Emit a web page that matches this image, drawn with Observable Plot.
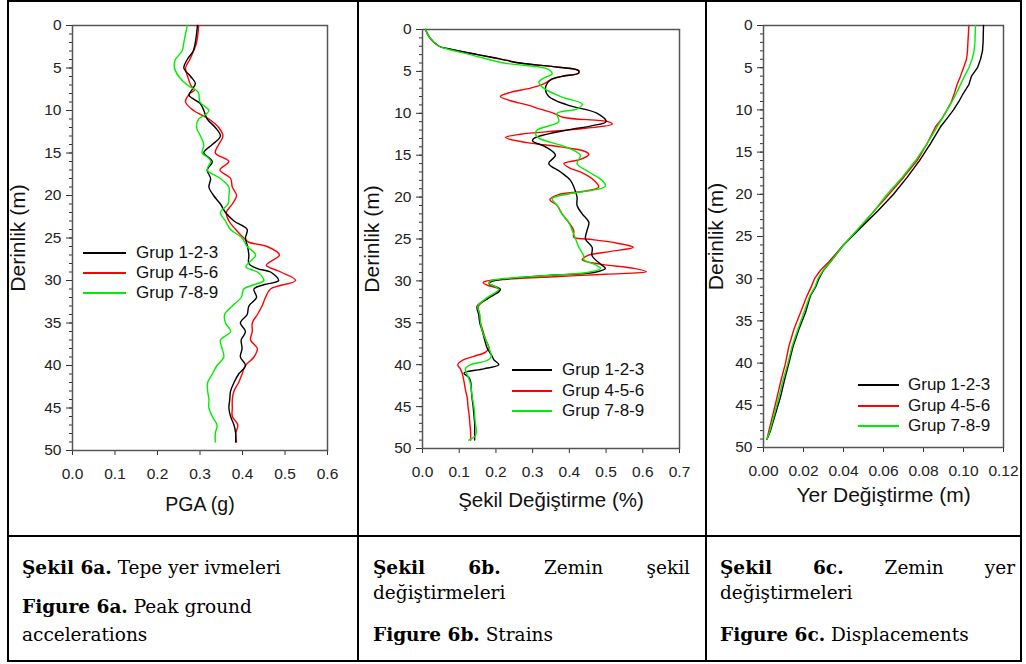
<!DOCTYPE html>
<html><head><meta charset="utf-8">
<script src="https://cdn.jsdelivr.net/npm/d3@7"></script>
<script src="https://cdn.jsdelivr.net/npm/@observablehq/plot@0.6"></script>
<style>
body{margin:0;background:#fff;width:1026px;height:664px;position:relative;overflow:hidden;font-family:"Liberation Sans",Arial,sans-serif;}
.rule{position:absolute;background:#000}
.chart{position:absolute}
.cap{position:absolute;font-family:"DejaVu Serif",serif;font-size:18.5px;line-height:26px;height:26px;white-space:nowrap;color:#000}
.cap.just{display:flex;justify-content:space-between}
.leg{position:absolute;font-size:17px;line-height:20px;height:20px;white-space:nowrap;color:#111}
.ln{position:absolute;height:2px}
</style></head><body>
<script>
// ---------- data ----------
const groupNames = ["Grup 1-2-3", "Grup 4-5-6", "Grup 7-8-9"];
const groupColors = ["#000000", "#ff0000", "#00ee00"];
const drawOrder = [1, 0, 2]; // red below black, green on top
const depthTicks = [0, 5, 10, 15, 20, 25, 30, 35, 40, 45, 50];
const depthMinorTicks = d3.range(0, 51, 1);

const pgaTicks = [0, 0.1, 0.2, 0.3, 0.4, 0.5, 0.6];
const strainTicks = [0, 0.1, 0.2, 0.3, 0.4, 0.5, 0.6, 0.7];
const dispTicks = [0, 0.02, 0.04, 0.06, 0.08, 0.10, 0.12];

// PGA (g) vs depth (m): [depth, value]
const pga123 = [[0,0.294],[2,0.289],[3,0.284],[4,0.27],[5,0.262],[6,0.278],[6.8,0.289],[7.5,0.282],[8.2,0.274],[9.2,0.301],[10,0.309],[11,0.317],[12,0.336],[13,0.348],[14,0.329],[14.7,0.312],[15,0.309],[16,0.329],[17,0.317],[18,0.325],[19,0.321],[20,0.332],[21,0.348],[22,0.36],[23,0.38],[24,0.411],[25,0.407],[26,0.412],[27,0.415],[28,0.415],[28.6,0.435],[29,0.466],[30,0.485],[30.5,0.45],[31,0.427],[32,0.433],[33,0.415],[34,0.411],[35,0.395],[36,0.407],[37,0.397],[38,0.399],[39,0.395],[40,0.407],[41,0.391],[42,0.38],[43,0.372],[44,0.37],[45,0.368],[46,0.372],[47,0.38],[48,0.384],[49,0.384]];
const pga456 = [[0,0.297],[2,0.292],[3,0.285],[4,0.276],[5,0.266],[6,0.271],[7,0.278],[7.6,0.287],[8,0.276],[9,0.266],[10,0.285],[11,0.321],[12,0.344],[13,0.354],[14,0.344],[15,0.336],[16,0.368],[17,0.347],[18,0.372],[19,0.376],[20,0.386],[21,0.376],[22,0.362],[23,0.368],[24,0.384],[25,0.403],[25.5,0.415],[26,0.458],[27,0.487],[28.2,0.456],[29,0.49],[30,0.525],[31,0.466],[32,0.454],[33,0.446],[34,0.435],[35,0.423],[36,0.423],[37,0.419],[38,0.435],[39,0.427],[40,0.407],[41,0.399],[42,0.391],[43,0.38],[44,0.376],[45,0.376],[46,0.376],[47,0.389],[48,0.384],[49,0.386]];
const pga789 = [[0,0.27],[2,0.262],[3,0.258],[4,0.242],[5,0.24],[6,0.25],[7,0.27],[7.7,0.293],[8,0.297],[9,0.3],[10,0.321],[10.5,0.313],[11,0.297],[12,0.292],[13,0.301],[14,0.309],[15,0.305],[15.6,0.32],[16,0.325],[17,0.317],[18,0.348],[19,0.368],[20,0.368],[21,0.366],[22,0.348],[23,0.36],[24,0.372],[25,0.399],[26,0.411],[27,0.431],[28.4,0.408],[29,0.435],[30,0.45],[30.5,0.427],[31,0.403],[32,0.397],[33,0.376],[34,0.358],[35,0.36],[36,0.372],[37,0.348],[38,0.352],[39,0.356],[40,0.34],[41,0.329],[42,0.318],[43,0.318],[44,0.321],[45,0.321],[46,0.329],[47,0.34],[48,0.336],[49,0.336]];

// Strain (%) vs depth (m)
const strain123 = [[0,0.008],[1,0.02],[2,0.045],[2.3,0.07],[3,0.15],[3.5,0.21],[4,0.265],[4.5,0.37],[4.9,0.425],[5.2,0.425],[5.6,0.38],[6,0.349],[7,0.335],[8,0.344],[9,0.394],[10,0.476],[11,0.5],[11.5,0.46],[12,0.394],[13,0.303],[13.3,0.3],[14,0.335],[15,0.362],[16,0.344],[17,0.376],[18,0.403],[19,0.414],[20,0.421],[21,0.421],[22,0.435],[23,0.453],[24,0.448],[25,0.444],[26,0.462],[27,0.462],[28,0.485],[28.5,0.498],[29,0.467],[29.3,0.36],[29.6,0.267],[30,0.194],[30.3,0.181],[31,0.212],[31.3,0.208],[32,0.181],[33,0.149],[34,0.153],[35,0.156],[36,0.163],[37,0.169],[38,0.176],[39,0.19],[39.4,0.194],[40,0.208],[40.5,0.167],[41,0.113],[41.5,0.126],[42,0.131],[43,0.133],[44,0.135],[45,0.138],[46,0.14],[47,0.142],[48,0.142],[49,0.142]];
const strain456 = [[0,0.008],[1,0.02],[2,0.045],[2.3,0.07],[3,0.15],[3.5,0.21],[4,0.265],[4.5,0.37],[4.9,0.425],[5.2,0.425],[5.6,0.38],[6,0.349],[6.5,0.33],[7,0.294],[7.5,0.24],[8,0.212],[8.5,0.24],[9,0.285],[9.5,0.321],[10,0.358],[10.5,0.385],[11,0.505],[11.3,0.517],[12,0.394],[12.5,0.267],[12.9,0.226],[13.5,0.285],[14,0.376],[14.5,0.439],[14.9,0.453],[15.5,0.43],[16,0.385],[16.5,0.4],[17,0.43],[18,0.467],[18.8,0.48],[19.3,0.44],[19.7,0.37],[20.3,0.347],[21,0.367],[22,0.38],[23,0.398],[24,0.412],[24.8,0.412],[25,0.448],[25.5,0.53],[26,0.574],[26.5,0.51],[27,0.448],[27.5,0.435],[28,0.485],[28.5,0.576],[28.9,0.61],[29.2,0.5],[29.5,0.358],[29.8,0.23],[30,0.176],[30.2,0.165],[30.5,0.176],[31,0.208],[32,0.181],[33,0.153],[34,0.155],[35,0.158],[36,0.165],[37,0.172],[38,0.181],[38.5,0.172],[39,0.14],[39.5,0.108],[40,0.096],[40.5,0.103],[41,0.108],[42,0.113],[43,0.117],[44,0.122],[45,0.124],[46,0.127],[47,0.129],[48,0.131],[49,0.131]];
const strain789 = [[0,0.008],[1,0.02],[2,0.045],[2.3,0.065],[3,0.13],[4,0.222],[4.3,0.28],[4.7,0.34],[5.3,0.353],[5.8,0.33],[6.3,0.317],[7,0.33],[8,0.376],[8.9,0.435],[9.5,0.42],[10,0.367],[11,0.371],[12,0.312],[12.5,0.308],[13,0.318],[14,0.39],[15,0.43],[16,0.421],[17,0.453],[18,0.489],[18.7,0.498],[19.2,0.46],[19.6,0.4],[20.2,0.353],[21,0.367],[22,0.38],[23,0.398],[24,0.408],[25,0.417],[26,0.426],[27,0.439],[27.5,0.44],[28,0.467],[28.5,0.485],[29,0.449],[29.3,0.36],[29.6,0.26],[30,0.185],[30.3,0.181],[31,0.208],[32,0.176],[33,0.151],[34,0.156],[35,0.158],[36,0.163],[37,0.172],[38,0.181],[39,0.187],[39.5,0.176],[40,0.131],[40.5,0.117],[41,0.12],[42,0.129],[43,0.133],[44,0.136],[45,0.14],[46,0.142],[47,0.144],[48,0.147],[48.5,0.144],[49,0.126]];

// Displacement (m) vs depth (m)
const disp123 = [[0,0.110],[2,0.1098],[3,0.1095],[4,0.1085],[5,0.107],[6,0.104],[7,0.1027],[8,0.100],[9,0.0977],[10,0.095],[11,0.0918],[12,0.0885],[14,0.0835],[16,0.078],[18,0.0718],[20,0.065],[22,0.057],[24,0.0485],[26,0.040],[28,0.0335],[29,0.030],[30,0.0277],[31,0.026],[32,0.0235],[34,0.021],[36,0.0177],[38,0.0148],[40,0.0127],[42,0.0105],[44,0.0085],[46,0.006],[48,0.0035],[49,0.0018]];
const disp456 = [[0,0.1027],[2,0.1022],[3,0.102],[4,0.1015],[5,0.100],[6,0.0985],[7,0.0968],[8,0.0955],[9,0.094],[10,0.0918],[11,0.0893],[12,0.086],[14,0.0818],[16,0.0768],[18,0.070],[20,0.0627],[22,0.0552],[24,0.048],[26,0.040],[28,0.0327],[29,0.0285],[30,0.0255],[31,0.0238],[32,0.0218],[34,0.0185],[36,0.0152],[38,0.0127],[40,0.011],[42,0.0088],[44,0.0068],[46,0.0048],[48,0.0027],[49,0.0018]];
const disp789 = [[0,0.106],[2,0.1057],[3,0.1053],[4,0.1043],[5,0.1027],[6,0.1005],[7,0.0985],[8,0.0965],[9,0.0943],[10,0.0918],[12,0.0868],[14,0.0818],[16,0.076],[18,0.0693],[20,0.0618],[22,0.0552],[24,0.0477],[26,0.040],[28,0.0335],[29,0.0298],[30,0.0272],[31,0.0257],[32,0.0232],[34,0.0202],[36,0.0172],[38,0.0143],[40,0.0122],[42,0.0098],[44,0.0077],[46,0.0055],[48,0.0032],[49,0.0018]];

// ---------- layout helpers ----------
function el(tag, cls, css, html) {
  const e = document.createElement(tag);
  if (cls) e.className = cls;
  Object.assign(e.style, css || {});
  if (html != null) e.innerHTML = html;
  document.body.appendChild(e);
  return e;
}

function depthChart(o) {
  const rows = drawOrder.flatMap(i => o.series[i].map(([d, v]) => ({depth: d, value: v, grup: groupNames[i]})));
  const svg = Plot.plot({
    width: o.width, height: o.height,
    marginLeft: o.m[0], marginRight: o.m[1], marginTop: o.m[2], marginBottom: o.m[3],
    style: {fontFamily: "'Liberation Sans', Arial, sans-serif", fontSize: "15px", color: "#222", background: "transparent", overflow: "visible"},
    x: {domain: o.xDomain},
    y: {domain: [0, 50], reverse: true},
    color: {domain: groupNames, range: groupColors},
    marks: [
      Plot.axisY({ticks: depthMinorTicks, tickSize: 3, tickFormat: () => "", label: null, stroke: "#333"}),
      Plot.axisY({ticks: depthTicks, tickSize: 6, tickPadding: 5, label: null, stroke: "#333", fontSize: 15.5}),
      Plot.axisX({ticks: o.xTicks, tickFormat: o.xFormat, tickSize: 5, tickPadding: 12, label: null, stroke: "#333", fontSize: 15.5}),
      Plot.frame({stroke: "#555", strokeWidth: 1.5}),
      Plot.line(rows, {x: "value", y: "depth", z: "grup", stroke: "grup", strokeWidth: 1.4, curve: o.curve}),
      Plot.text([o.xTitle], {text: d => d, frameAnchor: "bottom", textAnchor: "middle", lineAnchor: "middle", dy: o.xTitleDy, fontSize: o.xTitleSize, fill: "#111"}),
      Plot.text(["Derinlik (m)"], {text: d => d, frameAnchor: "left", textAnchor: "middle", lineAnchor: "middle", rotate: -90, dx: -o.yTitleDx, fontSize: 21, fill: "#111"})
    ]
  });
  svg.classList.add("chart");
  svg.style.left = o.left + "px";
  svg.style.top = o.top + "px";
  document.body.appendChild(svg);
}

function legend(x, y0, len, gap, step) {
  groupNames.forEach((g, i) => {
    const y = Math.round(y0 + i * step);
    el("div", "ln", {left: x + "px", top: (y - 1) + "px", width: len + "px", background: groupColors[i]});
    el("div", "leg", {left: (x + len + gap) + "px", top: (y - 10) + "px"}, g);
  });
}

// ---------- charts ----------
depthChart({left: 8, top: 2, width: 348, height: 533, m: [64, 29, 23, 85],
  xDomain: [0, 0.6], xTicks: pgaTicks, xFormat: d3.format(".1f"), xTitle: "PGA (g)", xTitleDy: 54, xTitleSize: 19.5, yTitleDx: 54,
  series: [pga123, pga456, pga789], curve: "catmull-rom"});
depthChart({left: 359, top: 2, width: 346, height: 533, m: [63, 26, 27, 87],
  xDomain: [0, 0.7], xTicks: strainTicks, xFormat: d3.format(".1f"), xTitle: "Şekil Değiştirme (%)", xTitleDy: 52, xTitleSize: 20.5, yTitleDx: 50,
  series: [strain123, strain456, strain789], curve: "catmull-rom"});
depthChart({left: 707, top: 2, width: 313, height: 533, m: [56, 17, 23, 88],
  xDomain: [0, 0.12], xTicks: dispTicks, xFormat: d3.format(".2f"), xTitle: "Yer Değiştirme (m)", xTitleDy: 48, xTitleSize: 21, yTitleDx: 47,
  series: [disp123, disp456, disp789], curve: "linear"});

legend(83, 253, 43, 10, 20);
legend(512, 370, 40, 10, 20.5);
legend(858, 385, 41, 9, 20.5);

// ---------- table rules ----------
el("div", "rule", {left: "7px", top: "0px", width: "1015px", height: "2px"});
el("div", "rule", {left: "7px", top: "0px", width: "2px", height: "662px"});
el("div", "rule", {left: "1020px", top: "0px", width: "2px", height: "662px"});
el("div", "rule", {left: "7px", top: "660px", width: "1015px", height: "2px"});
el("div", "rule", {left: "357px", top: "0px", width: "1.5px", height: "662px"});
el("div", "rule", {left: "705px", top: "0px", width: "1.5px", height: "662px"});
el("div", "rule", {left: "7px", top: "535px", width: "1015px", height: "2px"});

// ---------- captions ----------
function cap(x, cy, html, w) {
  const e = el("div", "cap" + (w ? " just" : ""), {left: x + "px", top: (cy - 13) + "px"}, html);
  if (w) e.style.width = w + "px";
}
cap(22, 568, "<b>Şekil 6a.</b> Tepe yer ivmeleri");
cap(22, 607, "<b>Figure 6a.</b> Peak ground");
cap(22, 635, "accelerations");
cap(373, 568, "<b>Şekil</b><b>6b.</b><span>Zemin</span><span>şekil</span>", 317);
cap(373, 593, "değiştirmeleri");
cap(373, 635, "<b>Figure 6b.</b> Strains");
cap(720, 568, "<b>Şekil</b><b>6c.</b><span>Zemin</span><span>yer</span>", 295);
cap(720, 593, "değiştirmeleri");
cap(720, 635, "<b>Figure 6c.</b> Displacements");
</script>
</body></html>
